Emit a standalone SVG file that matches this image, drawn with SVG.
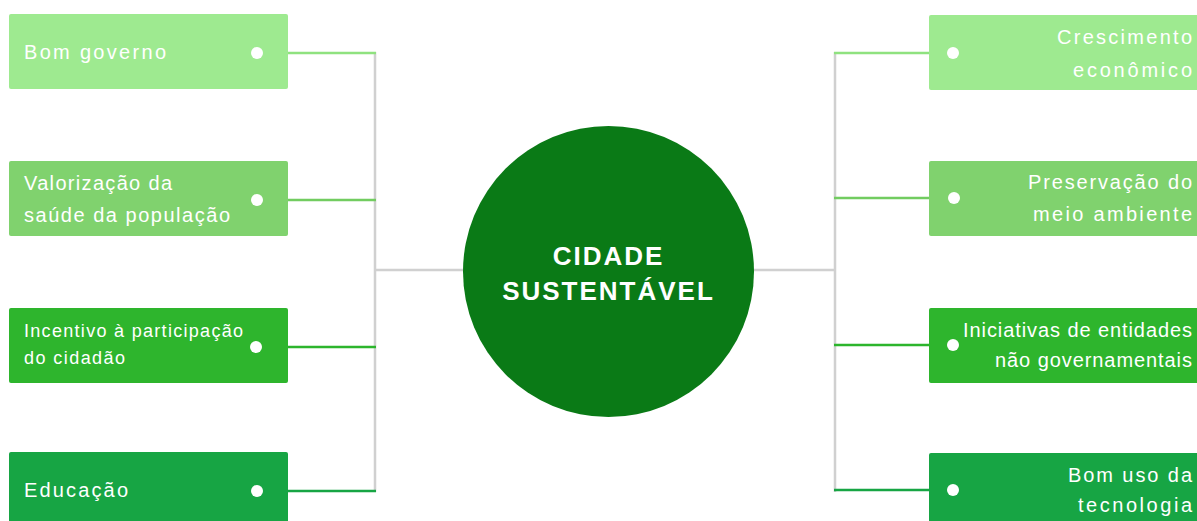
<svg xmlns="http://www.w3.org/2000/svg" width="1197" height="521" viewBox="0 0 1197 521">
<style>
.t{font-family:"Liberation Sans",Arial,sans-serif;fill:#ffffff;font-size:20px}
.s{font-size:18px}
.c{font-family:"Liberation Sans",Arial,sans-serif;fill:#ffffff;font-size:26px;font-weight:bold;letter-spacing:2px;text-anchor:middle}
.r{text-anchor:end}
.g{stroke:#d0d0d0;stroke-width:2.5;fill:none}
.dot{fill:#ffffff}
.b1{fill:#9eea90}.b2{fill:#80d26e}.b3{fill:#2eb52d}.b4{fill:#17a544}
.l1{stroke:#8fe27f;stroke-width:2.5}.l2{stroke:#72cc60;stroke-width:2.5}.l3{stroke:#2cb52c;stroke-width:2.5}.l4{stroke:#17a544;stroke-width:2.5}
</style>
<g id="connectors">
<line class="g" x1="375" y1="52" x2="375" y2="492"/>
<line class="g" x1="375" y1="270" x2="465" y2="270"/>
<line class="g" x1="835" y1="52" x2="835" y2="492"/>
<line class="g" x1="752" y1="270" x2="835" y2="270"/>
<line class="l1" x1="288" y1="53" x2="376" y2="53"/>
<line class="l2" x1="288" y1="200" x2="376" y2="200"/>
<line class="l3" x1="288" y1="347" x2="376" y2="347"/>
<line class="l4" x1="288" y1="491" x2="376" y2="491"/>
<line class="l1" x1="834" y1="53" x2="929" y2="53"/>
<line class="l2" x1="834" y1="198" x2="929" y2="198"/>
<line class="l3" x1="834" y1="345" x2="929" y2="345"/>
<line class="l4" x1="834" y1="490" x2="929" y2="490"/>
</g>
<g id="center">
<circle cx="608.5" cy="271.5" r="145.5" fill="#0a7a16"/>
<text class="c" x="608.5" y="265">CIDADE</text>
<text class="c" x="608.5" y="300">SUSTENTÁVEL</text>
</g>
<g id="bom-governo">
<rect class="b1" x="9" y="14" width="279" height="75" rx="2"/>
<circle class="dot" cx="257" cy="53" r="6"/>
<text class="t" x="24" y="59" textLength="142" lengthAdjust="spacing">Bom governo</text>
</g>
<g id="valorizacao">
<rect class="b2" x="9" y="161" width="279" height="75" rx="2"/>
<circle class="dot" cx="257" cy="200" r="6"/>
<text class="t" x="24" y="190" textLength="148" lengthAdjust="spacing">Valorização da</text>
<text class="t" x="24" y="222" textLength="206" lengthAdjust="spacing">saúde da população</text>
</g>
<g id="incentivo">
<rect class="b3" x="9" y="308" width="279" height="75" rx="2"/>
<circle class="dot" cx="256" cy="347" r="6"/>
<text class="t s" x="24" y="337" textLength="219" lengthAdjust="spacing">Incentivo à participação</text>
<text class="t s" x="24" y="364" textLength="101" lengthAdjust="spacing">do cidadão</text>
</g>
<g id="educacao">
<rect class="b4" x="9" y="452" width="279" height="75" rx="2"/>
<circle class="dot" cx="257" cy="491" r="6"/>
<text class="t" x="24" y="497" textLength="104" lengthAdjust="spacing">Educação</text>
</g>
<g id="crescimento">
<rect class="b1" x="929" y="15" width="275" height="75" rx="2"/>
<circle class="dot" cx="953" cy="53" r="6"/>
<text class="t r" x="1192" y="44" textLength="135" lengthAdjust="spacing">Crescimento</text>
<text class="t r" x="1192" y="77" textLength="119" lengthAdjust="spacing">econômico</text>
</g>
<g id="preservacao">
<rect class="b2" x="929" y="161" width="275" height="75" rx="2"/>
<circle class="dot" cx="954" cy="198" r="6"/>
<text class="t r" x="1192" y="189" textLength="164" lengthAdjust="spacing">Preservação do</text>
<text class="t r" x="1192" y="221" textLength="159" lengthAdjust="spacing">meio ambiente</text>
</g>
<g id="iniciativas">
<rect class="b3" x="929" y="308" width="275" height="75" rx="2"/>
<circle class="dot" cx="953" cy="345" r="6"/>
<text class="t r" x="1192" y="337" textLength="229" lengthAdjust="spacing">Iniciativas de entidades</text>
<text class="t r" x="1192" y="367" textLength="197" lengthAdjust="spacing">não governamentais</text>
</g>
<g id="bom-uso">
<rect class="b4" x="929" y="453" width="275" height="75" rx="2"/>
<circle class="dot" cx="953" cy="490" r="6"/>
<text class="t r" x="1192" y="482" textLength="124" lengthAdjust="spacing">Bom uso da</text>
<text class="t r" x="1192" y="512" textLength="114" lengthAdjust="spacing">tecnologia</text>
</g>
</svg>
